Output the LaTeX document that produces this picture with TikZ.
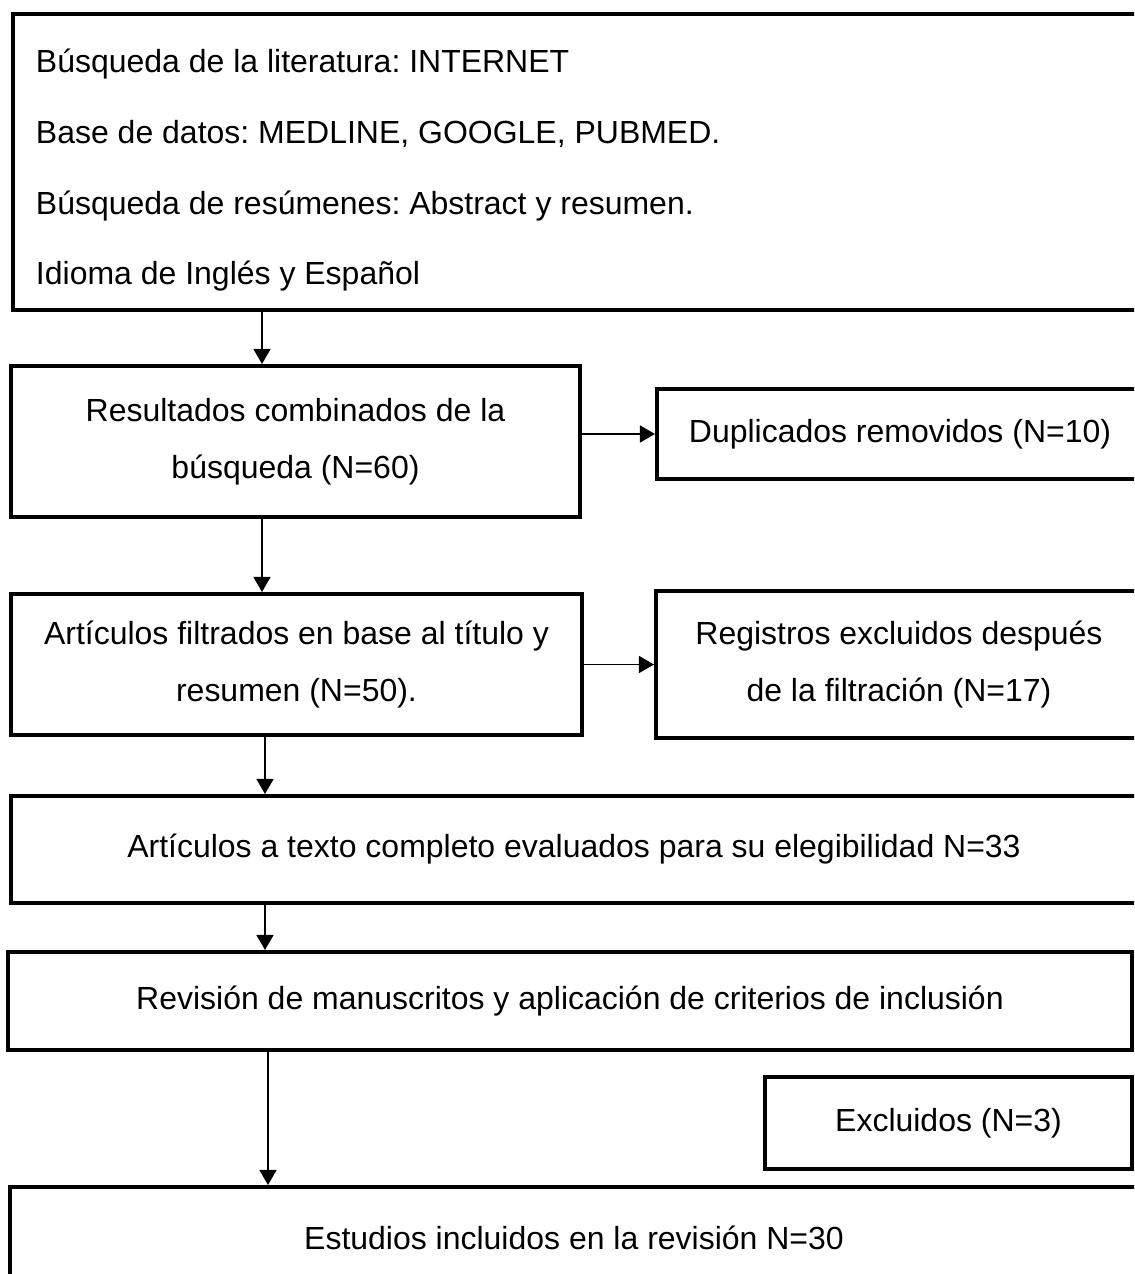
\documentclass[tikz,border=0pt]{standalone}
\usepackage{fontspec}
\setmainfont{Liberation Sans}
\frenchspacing
\usetikzlibrary{arrows.meta, positioning, calc}

\begin{document}
\begin{tikzpicture}[
    font=\fontsize{18.2}{32.4}\selectfont,
    caja/.style={draw=black, line width=2.3pt, align=center, inner sep=0pt},
    a/.style={-{Triangle[length=3mm, width=3.4mm]}, line width=0.75pt},
  ]
    \useasboundingbox (0,0) rectangle (22.68,-25.48);
    \clip (0,0) rectangle (22.68,-25.48);

    % =================== búsqueda ===================
    \node[caja, align=flush left, text width=22.02cm, inner xsep=4.6mm, minimum height=5.92cm,
          font=\fontsize{18.2}{40.2}\selectfont] (busq) at (11.73,-3.24)
      {\rule{0pt}{8mm}Búsqueda de la literatura: INTERNET\\
       Base de datos: MEDLINE, GOOGLE, PUBMED.\\
       Búsqueda de resúmenes: Abstract y resumen.\\
       Idioma de Inglés y Español};

    % =================== cribado ===================
    \node[caja, minimum width=11.38cm, minimum height=3.02cm] (comb) at (5.91,-8.83)
      {Resultados combinados de la\\búsqueda (N=60)};
    \node[caja, minimum width=9.72cm, minimum height=1.8cm] (dup) at (18.0,-8.68)
      {Duplicados removidos (N=10)};
    \node[caja, minimum width=11.42cm, minimum height=2.82cm] (filt) at (5.93,-13.29)
      {Artículos filtrados en base al título y\\resumen (N=50).};
    \node[caja, minimum width=9.72cm, minimum height=2.94cm] (regex) at (17.98,-13.29)
      {Registros excluidos después\\de la filtración (N=17)};

    % =================== elegibilidad ===================
    \node[caja, minimum width=22.52cm, minimum height=2.14cm] (texto) at (11.48,-16.99)
      {Artículos a texto completo evaluados para su elegibilidad N=33};
    \node[caja, minimum width=22.48cm, minimum height=1.96cm] (revis) at (11.40,-20.02)
      {Revisión de manuscritos y aplicación de criterios de inclusión};
    \node[caja, minimum width=7.34cm, minimum height=1.84cm] (exc) at (18.97,-22.46)
      {Excluidos (N=3)};
    \node[caja, minimum width=22.56cm, minimum height=2.04cm] (incl) at (11.48,-24.76)
      {Estudios incluidos en la revisión N=30};

    % flechas
    \coordinate (x1) at (5.24,0);
    \coordinate (x2) at (5.30,0);
    \coordinate (x3) at (5.36,0);
    \draw[a] (busq.south -| x1) -- (comb.north -| x1);
    \draw[a] (comb.south -| x1) -- (filt.north -| x1);
    \draw[a] (filt.south -| x2) -- (texto.north -| x2);
    \draw[a] (texto.south -| x2) -- (revis.north -| x2);
    \draw[a] (revis.south -| x3) -- (incl.north -| x3);
    \draw[a] (comb.east |- dup.west) -- (dup.west);
    \draw[a] (filt.east) -- (regex.west);
  \end{tikzpicture}
\end{document}
